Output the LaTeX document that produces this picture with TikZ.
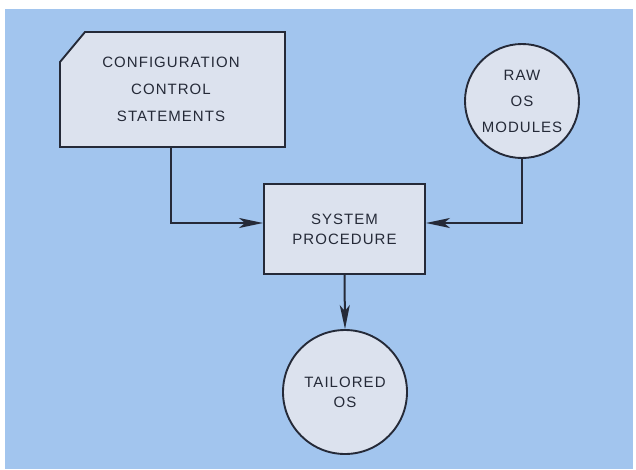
\documentclass[tikz,border=0pt]{standalone}
\usepackage{fontspec}
\newfontfamily\lbl[LetterSpace=7]{Liberation Sans}
\usetikzlibrary{arrows.meta}
\definecolor{bgblue}{HTML}{A2C5EE}
\definecolor{boxfill}{HTML}{DCE2EE}
\definecolor{ink}{HTML}{252A38}
\begin{document}
\begin{tikzpicture}[x=1pt,y=-1pt,
  lbl/.style={text=ink,align=center,font={\lbl\fontsize{15}{20}\selectfont}},
  shapeline/.style={draw=ink,line width=1.9pt,fill=boxfill},
  procbox/.style={lbl,shapeline,rectangle,minimum width=161pt,minimum height=90pt,inner sep=0pt},
  roundnode/.style={lbl,shapeline,circle,inner sep=0pt},
  arr/.style={draw=ink,line width=2pt,-{Stealth[length=24pt,width=10pt,inset=6pt]}}]
\useasboundingbox (0,0) rectangle (636,469);
\fill[white] (0,0) rectangle (636,469);
\fill[bgblue] (5,9) rectangle (633,469);
% card shape
\draw[shapeline,line join=miter] (85,32) -- (285,32) -- (285,147) -- (60,147) -- (60,62) -- cycle;
\node[lbl,minimum width=225pt,minimum height=115pt,inner sep=0pt] (card) at (171,89.5)
  {CONFIGURATION\\[7pt]CONTROL\\[7pt]STATEMENTS};
\node[roundnode,minimum size=114pt] (raw) at (522,101) {RAW\\[6pt]OS\\[6pt]MODULES};
\node[procbox] (box) at (344.5,229) {SYSTEM\\PROCEDURE};
\node[roundnode,minimum size=124pt] (tail) at (345,392) {TAILORED\\OS};
\draw[arr] (card.south) |- ([yshift=6pt]box.west);
\draw[arr] (raw.south) |- ([yshift=6pt]box.east);
\draw[arr] (box.south) -- (tail.north);
\end{tikzpicture}
\end{document}
